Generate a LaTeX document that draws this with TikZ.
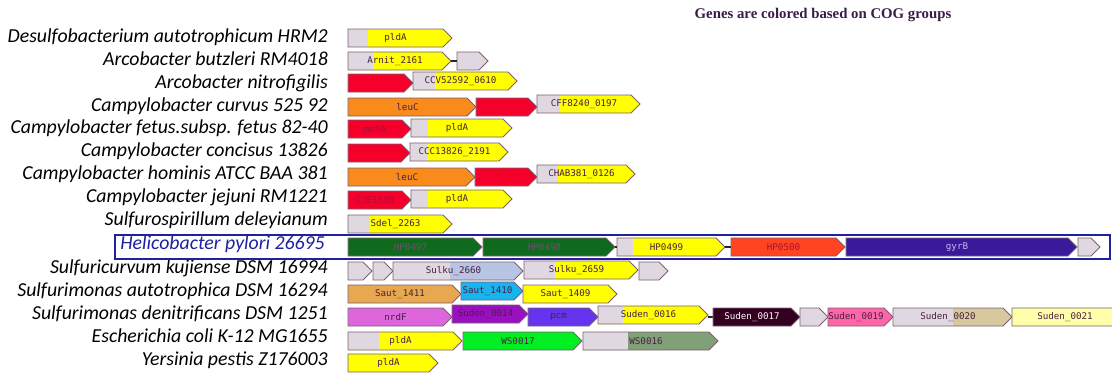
\documentclass[tikz,border=0pt]{standalone}
\usepackage{fontspec}
\setmainfont{Carlito}
\newfontfamily\genefont{DejaVu Sans Mono}
\newfontfamily\titlefont{Liberation Serif}
\definecolor{ggray}{HTML}{E0D8E0}
\definecolor{gyellow}{HTML}{FFFF00}
\definecolor{gred}{HTML}{F5002A}
\definecolor{gorange}{HTML}{F98A1C}
\definecolor{gdkgreen}{HTML}{106A1E}
\definecolor{gredorange}{HTML}{FF4422}
\definecolor{gindigo}{HTML}{3A1A9A}
\definecolor{glblue}{HTML}{B8C4E4}
\definecolor{gtan}{HTML}{E8A850}
\definecolor{gcyan}{HTML}{18B4F0}
\definecolor{gorchid}{HTML}{DD66DD}
\definecolor{gpurple}{HTML}{9A10C0}
\definecolor{gviolet}{HTML}{6633EE}
\definecolor{gdkplum}{HTML}{330022}
\definecolor{gpink}{HTML}{FF66AA}
\definecolor{gbeige}{HTML}{D8C8A0}
\definecolor{glyellow}{HTML}{FFFFAA}
\definecolor{ggreen}{HTML}{00EE22}
\definecolor{gsage}{HTML}{80A078}
\definecolor{goutline}{HTML}{7A6070}
\definecolor{gtext}{HTML}{4A2040}
\definecolor{gtextgreen}{HTML}{6E5070}
\definecolor{gtextred}{HTML}{A8103A}
\definecolor{gtextlight}{HTML}{C8B8E8}
\definecolor{hblue}{HTML}{2020A0}
\definecolor{titlecol}{HTML}{3B1B48}
\tikzset{
  geneline/.style={draw=goutline, line width=0.8pt, line join=miter},
  genelabel/.style={font=\genefont\fontsize{9.2}{9.2}\selectfont, inner sep=0pt},
  orglabel/.style={anchor=mid east, inner sep=0pt, font=\fontsize{19.8}{19.8}\selectfont\itshape, text=black},
  linker/.style={draw=black!85, line width=1.2pt},
  helibox/.style={draw=hblue, line width=1.8pt}
}
% #1 x1, #2 x2 (tip), #3 y centre, #4 fill, #5 gray up to x, #6 label, #7 text colour, #8 name
\newcommand{\genearrow}[8]{%
  \fill[#4] (#1,#3-9) -- (#2-9,#3-9) -- (#2,#3) -- (#2-9,#3+9) -- (#1,#3+9) -- cycle;
  \fill[ggray] (#1,#3-9) rectangle (#5,#3+9);
  \draw[geneline] (#1,#3-9) -- (#2-9,#3-9) -- (#2,#3) -- (#2-9,#3+9) -- (#1,#3+9) -- cycle;
  \node[genelabel, text=#7] (#8) at ({(#1+#2-9)/2},#3) {#6};
}
\begin{document}
\begin{tikzpicture}[x=1pt,y=-1pt]
\useasboundingbox (0,0) rectangle (1112,373);
\fill[white] (0,0) rectangle (1112,373);

\node[font=\titlefont\bfseries\fontsize{14.8}{14.8}\selectfont, text=titlecol] (title) at (823,15) {Genes are colored based on COG groups};

% organism labels
\node[orglabel] (o1) at (328,40) {Desulfobacterium autotrophicum HRM2};
\node[orglabel] (o2) at (328,63) {Arcobacter butzleri RM4018};
\node[orglabel] (o3) at (328,86) {Arcobacter nitrofigilis};
\node[orglabel] (o4) at (328,109) {Campylobacter curvus 525 92};
\node[orglabel] (o5) at (328,131) {Campylobacter fetus.subsp. fetus 82-40};
\node[orglabel] (o6) at (328,154) {Campylobacter concisus 13826};
\node[orglabel] (o7) at (328,177) {Campylobacter hominis ATCC BAA 381};
\node[orglabel] (o8) at (328,200) {Campylobacter jejuni RM1221};
\node[orglabel] (o9) at (328,223) {Sulfurospirillum deleyianum};
\node[orglabel, text=hblue] (o10) at (325,247) {Helicobacter pylori 26695};
\node[orglabel] (o11) at (328,271) {Sulfuricurvum kujiense DSM 16994};
\node[orglabel] (o12) at (328,294) {Sulfurimonas autotrophica DSM 16294};
\node[orglabel] (o13) at (328,317) {Sulfurimonas denitrificans DSM 1251};
\node[orglabel] (o14) at (328,340) {Escherichia coli K-12 MG1655};
\node[orglabel] (o15) at (328,363) {Yersinia pestis Z176003};

% highlight box
\draw[helibox] (115,235) -- (1110,235) -- (1110,259) -- (115,259) -- cycle;

% row 1
\genearrow{348}{452}{38}{gyellow}{368}{pldA}{gtext}{r1a}
% row 2
\genearrow{348}{451}{61}{gyellow}{373}{Arnit\_2161}{gtext}{r2a}
\genearrow{457}{488}{61}{ggray}{457}{}{gtext}{r2b}
\draw[linker] (451,61) -- (457,61);
% row 3
\genearrow{348}{413}{83}{gred}{348}{}{gtext}{r3a}
\genearrow{413}{517}{81}{gyellow}{435}{CCV52592\_0610}{gtext}{r3b}
% row 4
\genearrow{348}{476}{107}{gorange}{348}{leuC}{gtext}{r4a}
\genearrow{476}{537}{107}{gred}{476}{}{gtext}{r4b}
\genearrow{537}{640}{104}{gyellow}{560}{CFF8240\_0197}{gtext}{r4c}
% row 5
\genearrow{348}{411}{129}{gred}{348}{mobA}{gtextred}{r5a}
\genearrow{411}{512}{128}{gyellow}{428}{pldA}{gtext}{r5b}
% row 6
\genearrow{348}{410}{153}{gred}{348}{}{gtext}{r6a}
\genearrow{410}{508}{152}{gyellow}{427}{CCC13826\_2191}{gtext}{r6b}
% row 7
\genearrow{348}{475}{177}{gorange}{348}{leuC}{gtext}{r7a}
\genearrow{475}{537}{177}{gred}{475}{}{gtext}{r7b}
\genearrow{537}{635}{174}{gyellow}{558}{CHAB381\_0126}{gtext}{r7c}
% row 8
\genearrow{348}{411}{200}{gred}{348}{CJE1539}{gtextred}{r8a}
\genearrow{411}{512}{199}{gyellow}{428}{pldA}{gtext}{r8b}
% row 9
\genearrow{348}{452}{224}{gyellow}{370}{Sdel\_2263}{gtext}{r9a}
% row 10
\genearrow{348}{482}{247}{gdkgreen}{348}{HP0497}{gtextgreen}{r10a}
\genearrow{483}{615}{247}{gdkgreen}{483}{HP0498}{gtextgreen}{r10b}
\genearrow{617}{725}{247}{gyellow}{633}{HP0499}{gtext}{r10c}
\genearrow{731}{845}{247}{gredorange}{731}{HP0500}{gtextred}{r10d}
\genearrow{846}{1077}{247}{gindigo}{846}{gyrB}{gtextlight}{r10e}
\genearrow{1078}{1100}{247}{ggray}{1078}{}{gtext}{r10f}
\draw[linker] (615,247) -- (617,247);
\draw[linker] (725,247) -- (731,247);
% row 11
\genearrow{348}{372}{271}{ggray}{348}{}{gtext}{r11a}
\genearrow{373}{393}{271}{ggray}{373}{}{gtext}{r11b}
\genearrow{393}{523}{271}{glblue}{450}{Sulku\_2660}{gtext}{r11c}
\genearrow{524}{638}{270}{gyellow}{555}{Sulku\_2659}{gtext}{r11d}
\genearrow{639}{668}{271}{ggray}{639}{}{gtext}{r11e}
% row 12
\genearrow{348}{461}{294}{gtan}{348}{Saut\_1411}{gtext}{r12a}
\genearrow{461}{523}{291}{gcyan}{461}{Saut\_1410}{gtext}{r12b}
\genearrow{523}{617}{294}{gyellow}{523}{Saut\_1409}{gtext}{r12c}
% row 13
\genearrow{348}{452}{317}{gorchid}{348}{nrdF}{gtext}{r13a}
\genearrow{452}{528}{314}{gpurple}{452}{Suden\_0014}{gtext}{r13b}
\genearrow{528}{598}{317}{gviolet}{528}{pcm}{gtext}{r13c}
\genearrow{598}{708}{315}{gyellow}{623}{Suden\_0016}{gtext}{r13d}
\draw[linker] (708,317) -- (713,317);
\genearrow{713}{800}{317}{gdkplum}{713}{Suden\_0017}{white!90!pink}{r13e}
\genearrow{800}{828}{317}{ggray}{800}{}{gtext}{r13f}
\genearrow{828}{893}{317}{gpink}{828}{Suden\_0019}{gtext}{r13g}
\genearrow{893}{1012}{317}{gbeige}{953}{Suden\_0020}{gtext}{r13h}
\genearrow{1012}{1127}{317}{glyellow}{1012}{Suden\_0021}{gtext}{r13i}
% row 14
\genearrow{348}{462}{341}{gyellow}{379}{pldA}{gtext}{r14a}
\genearrow{463}{582}{341}{ggreen}{463}{WS0017}{gtext}{r14b}
\genearrow{583}{718}{341}{gsage}{628}{WS0016}{gtext}{r14c}
% row 15
\genearrow{348}{438}{363}{gyellow}{348}{pldA}{gtext}{r15a}
\end{tikzpicture}
\end{document}
